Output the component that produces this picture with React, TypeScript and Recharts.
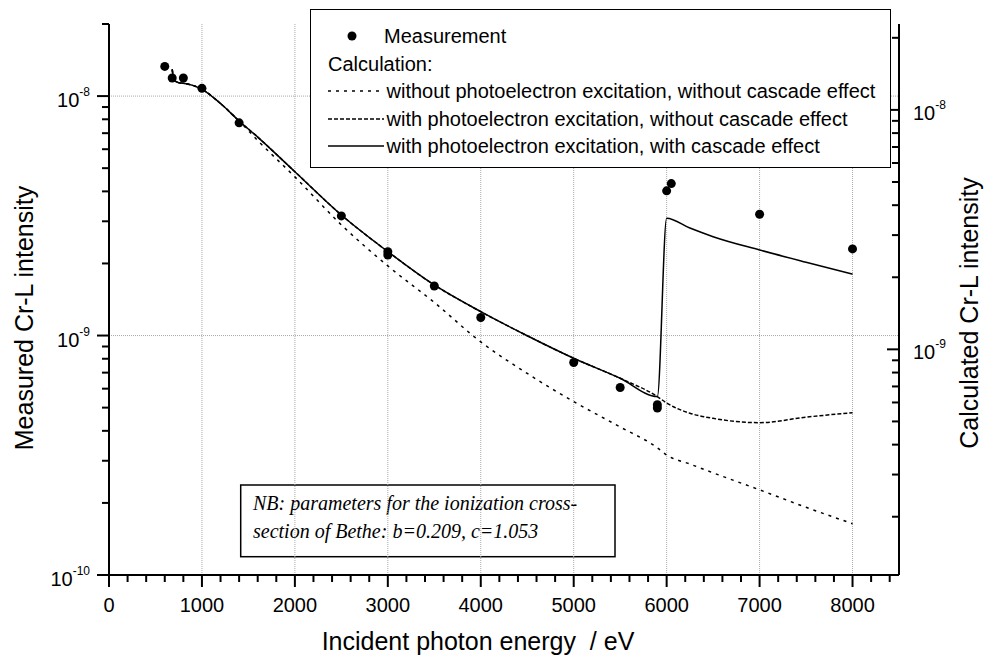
import {
  ComposedChart,
  Line,
  Scatter,
  XAxis,
  YAxis,
  ReferenceLine,
  Legend,
  Customized,
} from 'recharts';

const SANS = '"Liberation Sans", Arial, Helvetica, sans-serif';
const SERIF = '"Liberation Serif", "Times New Roman", serif';

// Measured Cr-L intensity (left axis)
const measEnergy = [600, 680, 800, 1000, 1400, 2500, 3000, 3000, 3500, 4000, 5000, 5500, 5900, 5900, 6000, 6050, 7000, 8000];
const measIntensity = [
  1.33e-8, 1.19e-8, 1.19e-8, 1.077e-8, 7.73e-9, 3.16e-9, 2.24e-9, 2.17e-9, 1.61e-9, 1.19e-9,
  7.72e-10, 6.07e-10, 5.14e-10, 4.98e-10, 4.02e-9, 4.31e-9, 3.21e-9, 2.3e-9,
];

// Calculated Cr-L intensity (right axis)
const calcEnergy = [680, 700, 750, 800, 900, 1000, 1200, 1400, 1600, 2000, 2500, 3000, 3500, 4000, 4500, 5000, 5500, 5900, 6000, 6250, 6500, 7000, 7500, 8000];
const calcNoPeNoCascade = [
  1.477e-8, 1.333e-8, 1.299e-8, 1.291e-8, 1.266e-8, 1.219e-8, 1.063e-8, 8.99e-9,
  7.45e-9, 5.25e-9, 3.31e-9, 2.23e-9, 1.57e-9, 1.074e-9, 7.93e-10, 6.05e-10, 4.74e-10, 3.88e-10,
  3.62e-10, 3.32e-10, 3.05e-10, 2.59e-10, 2.19e-10, 1.87e-10,
];
const calcPeNoCascade = [
  1.477e-8, 1.333e-8, 1.299e-8, 1.291e-8, 1.266e-8, 1.219e-8, 1.063e-8, 8.99e-9,
  7.7e-9, 5.52e-9, 3.64e-9, 2.56e-9, 1.857e-9, 1.437e-9, 1.14e-9, 9.18e-10, 7.57e-10, 6.35e-10,
  5.97e-10, 5.41e-10, 5.15e-10, 4.94e-10, 5.21e-10, 5.44e-10,
];
const calcPeCascade = [
  1.477e-8, 1.333e-8, 1.299e-8, 1.291e-8, 1.266e-8, 1.219e-8, 1.063e-8, 8.99e-9,
  7.7e-9, 5.52e-9, 3.64e-9, 2.56e-9, 1.857e-9, 1.437e-9, 1.14e-9, 9.18e-10, 7.57e-10, 6.35e-10,
  3.53e-9, 3.21e-9, 2.955e-9, 2.6e-9, 2.31e-9, 2.06e-9,
];

const xTicks = [
  0, 200, 400, 600, 800, 1000, 1200, 1400, 1600, 1800, 2000, 2200, 2400, 2600, 2800, 3000,
  3200, 3400, 3600, 3800, 4000, 4200, 4400, 4600, 4800, 5000, 5200, 5400, 5600, 5800, 6000,
  6200, 6400, 6600, 6800, 7000, 7200, 7400, 7600, 7800, 8000, 8200, 8400,
];
const leftTicks = [
  2e-8, 1e-8, 9e-9, 8e-9, 7e-9, 6e-9, 5e-9, 4e-9, 3e-9, 2e-9,
  1e-9, 9e-10, 8e-10, 7e-10, 6e-10, 5e-10, 4e-10, 3e-10, 2e-10, 1e-10,
];
const rightTicks = [
  2e-8, 1e-8, 9e-9, 8e-9, 7e-9, 6e-9, 5e-9, 4e-9, 3e-9, 2e-9,
  1e-9, 9e-10, 8e-10, 7e-10, 6e-10, 5e-10, 4e-10, 3e-10, 2e-10,
];
const xGrid = [1000, 2000, 3000, 4000, 5000, 6000, 7000, 8000];
const yGrid = [1e-8, 1e-9];

const measData = measEnergy.map((e, i) => ({ e, meas: measIntensity[i] }));
const calcData = calcEnergy.map((e, i) => ({
  e,
  noPe: calcNoPeNoCascade[i],
  pe: calcPeNoCascade[i],
  peCascade: calcPeCascade[i],
}));

const isDecade = (v: number) => Math.abs(Math.log10(v) - Math.round(Math.log10(v))) < 1e-6;

function LeftTick({ x, y, payload }: any) {
  const major = isDecade(payload.value);
  return (
    <g>
      <line x1={x - (major ? 12 : 7)} x2={x} y1={y} y2={y} stroke="#000" strokeWidth={2} />
      {major && (
        <text x={x - 19} y={y + 11} textAnchor="end" fontFamily={SANS} fontSize={20} fill="#000">
          10<tspan dy={-11} fontSize={12}>{Math.round(Math.log10(payload.value))}</tspan>
        </text>
      )}
    </g>
  );
}

function RightTick({ x, y, payload }: any) {
  const major = isDecade(payload.value);
  return (
    <g>
      <line x1={x - (major ? 12 : 7)} x2={x} y1={y} y2={y} stroke="#000" strokeWidth={2} />
      {major && (
        <text x={x + 14} y={y + 10} textAnchor="start" fontFamily={SANS} fontSize={20} fill="#000">
          10<tspan dy={-11} fontSize={12}>{Math.round(Math.log10(payload.value))}</tspan>
        </text>
      )}
    </g>
  );
}

function BottomTick({ x, y, payload }: any) {
  const major = payload.value % 1000 === 0;
  return (
    <g>
      <line x1={x} x2={x} y1={y} y2={y + (major ? 12 : 7)} stroke="#000" strokeWidth={2} />
      {major && (
        <text x={x} y={y + 37} textAnchor="middle" fontFamily={SANS} fontSize={20} fill="#000">
          {payload.value}
        </text>
      )}
    </g>
  );
}

function Titles() {
  return (
    <g fontFamily={SANS} fontSize={25} fill="#000">
      <text x={478} y={650} textAnchor="middle" style={{ whiteSpace: 'pre' }}>
        {'Incident photon energy  / eV'}
      </text>
      <text x={33} y={318} textAnchor="middle" transform="rotate(-90 33 318)">Measured Cr-L intensity</text>
      <text x={978} y={313} textAnchor="middle" transform="rotate(-90 978 313)">Calculated Cr-L intensity</text>
      <rect x={240.7} y={485} width={374.3} height={71.7} fill="#fff" stroke="#000" strokeWidth={1.5} />
      <text x={253} y={510} fontFamily={SERIF} fontStyle="italic" fontSize={20}>
        NB: parameters for the ionization cross-
      </text>
      <text x={253} y={538} fontFamily={SERIF} fontStyle="italic" fontSize={20}>
        section of Bethe: b=0.209, c=1.053
      </text>
    </g>
  );
}

const rowText = (left: number, center: number, text: string) => (
  <div style={{ position: 'absolute', left, top: center - 12, lineHeight: '24px', whiteSpace: 'nowrap' }}>{text}</div>
);

const rowSample = (center: number, dash?: string) => (
  <svg style={{ position: 'absolute', left: 17, top: center - 5 }} width={56} height={10}>
    <line x1={0} x2={56} y1={5} y2={5} stroke="#000" strokeWidth={1.5} strokeDasharray={dash} />
  </svg>
);

function LegendBox() {
  return (
    <div
      style={{
        position: 'relative',
        width: 581,
        height: 159,
        boxSizing: 'border-box',
        border: '1.5px solid #000',
        background: '#fff',
        fontFamily: SANS,
        fontSize: 20,
        color: '#000',
      }}
    >
      <svg style={{ position: 'absolute', left: 35, top: 20 }} width={12} height={12}>
        <circle cx={6} cy={6} r={4.5} fill="#000" />
      </svg>
      {rowText(73, 26, 'Measurement')}
      {rowText(17, 53.5, 'Calculation:')}
      {rowSample(81, '3 5')}
      {rowText(75.5, 81, 'without photoelectron excitation, without cascade effect')}
      {rowSample(108.5, '4 2')}
      {rowText(75.5, 108.5, 'with photoelectron excitation, without cascade effect')}
      {rowSample(136)}
      {rowText(75.5, 136, 'with photoelectron excitation, with cascade effect')}
    </div>
  );
}

export default function App() {
  return (
    <div style={{ position: 'absolute', left: 0, top: 0, background: '#fff' }}>
      <ComposedChart width={984} height={658} margin={{ top: 24, right: 25, bottom: 43, left: 49 }}>
        <XAxis
          dataKey="e"
          type="number"
          domain={[0, 8500]}
          allowDataOverflow
          ticks={xTicks}
          interval={0}
          tick={<BottomTick />}
          tickLine={false}
          tickSize={0}
          tickMargin={0}
          height={40}
          axisLine={{ stroke: '#000', strokeWidth: 2 }}
        />
        <YAxis
          yAxisId="left"
          scale="log"
          domain={[1e-10, 2e-8]}
          allowDataOverflow
          ticks={leftTicks}
          interval={0}
          tick={<LeftTick />}
          tickLine={false}
          tickSize={0}
          tickMargin={0}
          width={60}
          axisLine={{ stroke: '#000', strokeWidth: 2 }}
        />
        <YAxis
          yAxisId="right"
          orientation="right"
          scale="log"
          domain={[1.142e-10, 2.284e-8]}
          allowDataOverflow
          ticks={rightTicks}
          interval={0}
          tick={<RightTick />}
          tickLine={false}
          tickSize={0}
          tickMargin={0}
          width={60}
          axisLine={{ stroke: '#000', strokeWidth: 2 }}
        />
        {xGrid.map((v) => (
          <ReferenceLine key={`x${v}`} x={v} yAxisId="left" stroke="#aaa" strokeWidth={1} strokeDasharray="1 1" />
        ))}
        {yGrid.map((v) => (
          <ReferenceLine key={`y${v}`} y={v} yAxisId="left" stroke="#aaa" strokeWidth={1} strokeDasharray="1 1" />
        ))}
        <Line
          data={calcData}
          yAxisId="right"
          dataKey="noPe"
          type="monotone"
          stroke="#000"
          strokeWidth={1.5}
          strokeDasharray="3 5"
          dot={false}
          isAnimationActive={false}
        />
        <Line
          data={calcData}
          yAxisId="right"
          dataKey="pe"
          type="monotone"
          stroke="#000"
          strokeWidth={1.5}
          strokeDasharray="4 2"
          dot={false}
          isAnimationActive={false}
        />
        <Line
          data={calcData}
          yAxisId="right"
          dataKey="peCascade"
          type="monotone"
          stroke="#000"
          strokeWidth={1.5}
          dot={false}
          isAnimationActive={false}
        />
        <Scatter
          data={measData}
          yAxisId="left"
          dataKey="meas"
          isAnimationActive={false}
          shape={(p: any) => <circle cx={p.cx} cy={p.cy} r={4.5} fill="#000" />}
        />
        <Customized component={Titles} />
        <Legend
          layout="vertical"
          align="center"
          verticalAlign="middle"
          content={LegendBox}
          wrapperStyle={{ left: 310, top: 9, width: 581, height: 159 }}
        />
      </ComposedChart>
    </div>
  );
}
